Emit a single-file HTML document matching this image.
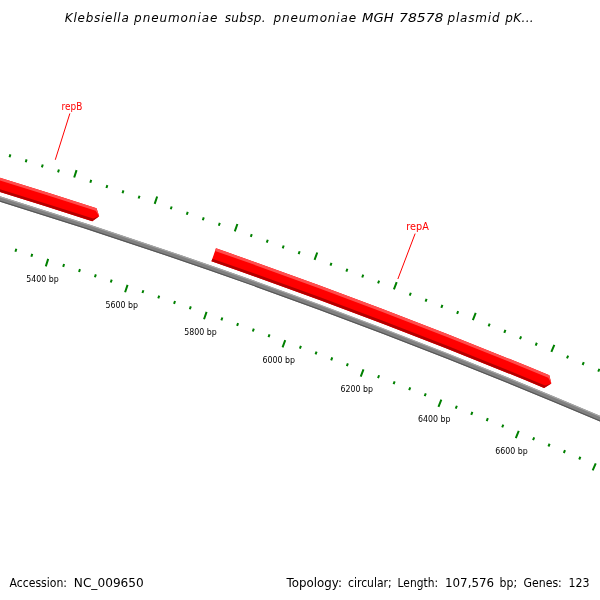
<!DOCTYPE html>
<html><head><meta charset="utf-8"><title>CGView map</title>
<style>
html,body{margin:0;padding:0;background:#fff;}
svg{display:block;}
text{font-family:"DejaVu Sans","Liberation Sans",sans-serif;fill:#000;}
.tl{font-size:8px;}
.gl{font-size:10px;fill:#ff0000;font-family:"DejaVu Sans Condensed","DejaVu Sans","Liberation Sans",sans-serif;}
.ti{font-size:12px;font-style:italic;}
.ft{font-size:12px;}
</style></head><body>
<svg width="600" height="600" viewBox="0 0 600 600">
<rect width="600" height="600" fill="#ffffff"/>
<path d="M-59.39 181.06 A6138.8 6138.8 0 0 1 651.18 440.79" fill="none" stroke="#808080" stroke-width="5.2"/>
<path d="M-58.81 179.11 A6140.83 6140.83 0 0 1 651.99 438.93" fill="none" stroke="#a6a6a6" stroke-width="1.14"/>
<path d="M-59.96 183 A6136.77 6136.77 0 0 1 650.37 442.64" fill="none" stroke="#565656" stroke-width="1.14"/>
<path d="M-33.36 167.54 A6159.2 6159.2 0 0 1 96.51 208.18 L99.2 216.26 L92.27 221.21 A6145.5 6145.5 0 0 0 -37.31 180.66 Z" fill="#ff0000"/>
<path d="M-33.36 167.54 A6159.2 6159.2 0 0 1 96.51 208.18 L99.2 216.26 L95.66 210.79 A6156.46 6156.46 0 0 0 -34.15 170.17 Z" fill="#ff4d4d"/>
<path d="M-36.52 178.04 A6148.24 6148.24 0 0 1 93.12 218.6 L99.2 216.26 L92.27 221.21 A6145.5 6145.5 0 0 0 -37.31 180.66 Z" fill="#b40000"/>
<path d="M215.97 248.37 A6159.2 6159.2 0 0 1 549.32 375.26 L551.37 383.53 L544.08 387.92 A6145.5 6145.5 0 0 0 211.47 261.31 Z" fill="#ff0000"/>
<path d="M215.97 248.37 A6159.2 6159.2 0 0 1 549.32 375.26 L551.37 383.53 L548.27 377.79 A6156.46 6156.46 0 0 0 215.07 250.96 Z" fill="#ff4d4d"/>
<path d="M212.37 258.72 A6148.24 6148.24 0 0 1 545.12 385.39 L551.37 383.53 L544.08 387.92 A6145.5 6145.5 0 0 0 211.47 261.31 Z" fill="#b40000"/>
<path d="M-87.86 128.2 L-85.69 120.71 M-71.6 132.94 L-70.76 130.06 M-55.35 137.72 L-54.5 134.84 M-39.11 142.54 L-38.25 139.67 M-22.88 147.41 L-22.02 144.54 M-6.67 152.32 L-4.4 144.86 M9.53 157.28 L10.41 154.41 M25.71 162.28 L26.6 159.42 M41.88 167.33 L42.78 164.47 M16.33 248.82 L15.43 251.68 M58.04 172.42 L58.94 169.56 M32.26 253.84 L31.36 256.7 M74.18 177.55 L76.56 170.12 M48.18 258.9 L45.81 266.33 M90.31 182.73 L91.23 179.88 M64.09 264.01 L63.17 266.86 M106.42 187.96 L107.35 185.1 M79.98 269.16 L79.05 272.01 M122.52 193.22 L123.46 190.37 M95.86 274.35 L94.92 277.2 M138.61 198.53 L139.55 195.69 M111.72 279.59 L110.78 282.44 M154.68 203.89 L157.16 196.49 M127.57 284.87 L125.09 292.27 M170.74 209.29 L171.7 206.45 M143.41 290.2 L142.45 293.04 M186.78 214.73 L187.75 211.89 M159.23 295.57 L158.26 298.41 M202.81 220.22 L203.78 217.38 M175.03 300.98 L174.05 303.81 M218.82 225.75 L219.8 222.92 M190.82 306.43 L189.84 309.27 M234.81 231.33 L237.39 223.96 M206.6 311.93 L204.02 319.29 M250.79 236.95 L251.79 234.12 M222.36 317.47 L221.36 320.3 M266.76 242.61 L267.77 239.78 M238.1 323.06 L237.09 325.88 M282.71 248.32 L283.72 245.49 M253.83 328.68 L252.82 331.51 M298.64 254.07 L299.66 251.24 M269.54 334.35 L268.52 337.18 M314.56 259.86 L317.24 252.53 M285.24 340.07 L282.56 347.39 M330.46 265.7 L331.5 262.88 M300.92 345.83 L299.89 348.64 M346.35 271.58 L347.39 268.77 M316.59 351.63 L315.55 354.44 M362.22 277.5 L363.27 274.69 M332.24 357.47 L331.19 360.28 M378.07 283.47 L379.13 280.66 M347.88 363.35 L346.82 366.16 M393.91 289.48 L396.69 282.19 M363.5 369.28 L360.72 376.57 M409.73 295.54 L410.81 292.74 M379.1 375.25 L378.02 378.05 M425.54 301.63 L426.62 298.84 M394.68 381.27 L393.6 384.06 M441.32 307.78 L442.41 304.98 M410.25 387.32 L409.16 390.12 M457.09 313.96 L458.19 311.17 M425.81 393.42 L424.71 396.21 M472.85 320.19 L475.72 312.94 M441.34 399.56 L438.46 406.81 M488.58 326.46 L489.7 323.67 M456.86 405.75 L455.75 408.53 M504.3 332.77 L505.42 329.99 M472.36 411.98 L471.24 414.76 M520 339.13 L521.13 336.35 M487.85 418.24 L486.72 421.02 M535.69 345.53 L536.83 342.75 M503.31 424.56 L502.18 427.33 M551.35 351.97 L554.33 344.76 M518.76 430.91 L515.79 438.12 M567 358.46 L568.16 355.69 M534.2 437.31 L533.05 440.08 M582.64 364.99 L583.8 362.22 M549.61 443.75 L548.45 446.51 M598.25 371.56 L599.42 368.8 M565.01 450.23 L563.84 452.99 M613.84 378.17 L615.02 375.41 M580.39 456.75 L579.21 459.51 M629.42 384.83 L632.5 377.66 M595.75 463.31 L592.68 470.48 M644.98 391.53 L646.17 388.78 M611.1 469.92 L609.91 472.68 M660.52 398.27 L661.72 395.52 M626.42 476.57 L625.22 479.32 M676.04 405.06 L677.25 402.31 M641.73 483.26 L640.52 486.01 M691.54 411.89 L692.76 409.14 M657.02 490 L655.8 492.74 M707.03 418.76 L710.2 411.63 M672.29 496.77 L669.11 503.9" stroke="#008000" stroke-width="2" fill="none"/>
<text x="42.52" y="282.21" class="tl" text-anchor="middle" textLength="32.5" lengthAdjust="spacingAndGlyphs">5400 bp</text>
<text x="121.64" y="308.09" class="tl" text-anchor="middle" textLength="32.5" lengthAdjust="spacingAndGlyphs">5600 bp</text>
<text x="200.39" y="335.06" class="tl" text-anchor="middle" textLength="32.5" lengthAdjust="spacingAndGlyphs">5800 bp</text>
<text x="278.77" y="363.1" class="tl" text-anchor="middle" textLength="32.5" lengthAdjust="spacingAndGlyphs">6000 bp</text>
<text x="356.75" y="392.21" class="tl" text-anchor="middle" textLength="32.5" lengthAdjust="spacingAndGlyphs">6200 bp</text>
<text x="434.33" y="422.39" class="tl" text-anchor="middle" textLength="32.5" lengthAdjust="spacingAndGlyphs">6400 bp</text>
<text x="511.49" y="453.63" class="tl" text-anchor="middle" textLength="32.5" lengthAdjust="spacingAndGlyphs">6600 bp</text>
<path d="M55.27 159.8 L69.89 113.45" stroke="#ff0000" stroke-width="1" fill="none"/>
<text x="71.93" y="109.56" class="gl" text-anchor="middle" textLength="20.7" lengthAdjust="spacingAndGlyphs">repB</text>
<path d="M397.86 279 L415.17 233.59" stroke="#ff0000" stroke-width="1" fill="none"/>
<text x="417.59" y="229.83" class="gl" text-anchor="middle" textLength="22.5" lengthAdjust="spacingAndGlyphs">repA</text>
<text x="64.8" y="22.3" class="ti" textLength="64.0" lengthAdjust="spacing">Klebsiella</text>
<text x="134.1" y="22.3" class="ti" textLength="83.2" lengthAdjust="spacing">pneumoniae</text>
<text x="224.7" y="22.3" class="ti" textLength="40.8" lengthAdjust="spacing">subsp.</text>
<text x="273.5" y="22.3" class="ti" textLength="82.6" lengthAdjust="spacing">pneumoniae</text>
<text x="362.0" y="22.3" class="ti" textLength="31.7" lengthAdjust="spacingAndGlyphs">MGH</text>
<text x="399.1" y="22.3" class="ti" textLength="44.3" lengthAdjust="spacingAndGlyphs">78578</text>
<text x="447.5" y="22.3" class="ti" textLength="52.0" lengthAdjust="spacing">plasmid</text>
<text x="505.2" y="22.3" class="ti" textLength="28.5" lengthAdjust="spacing">pK...</text>
<text x="9.5" y="587" class="ft" textLength="57.5" lengthAdjust="spacingAndGlyphs">Accession:</text>
<text x="73.8" y="587" class="ft" textLength="70.0" lengthAdjust="spacingAndGlyphs">NC_009650</text>
<text x="286.6" y="587" class="ft" textLength="55.4" lengthAdjust="spacingAndGlyphs">Topology:</text>
<text x="348.0" y="587" class="ft" textLength="43.6" lengthAdjust="spacingAndGlyphs">circular;</text>
<text x="397.6" y="587" class="ft" textLength="40.4" lengthAdjust="spacingAndGlyphs">Length:</text>
<text x="445.0" y="587" class="ft" textLength="49.1" lengthAdjust="spacingAndGlyphs">107,576</text>
<text x="499.6" y="587" class="ft" textLength="17.5" lengthAdjust="spacingAndGlyphs">bp;</text>
<text x="523.6" y="587" class="ft" textLength="38.2" lengthAdjust="spacingAndGlyphs">Genes:</text>
<text x="568.5" y="587" class="ft" textLength="21.0" lengthAdjust="spacingAndGlyphs">123</text>
</svg>
</body></html>
